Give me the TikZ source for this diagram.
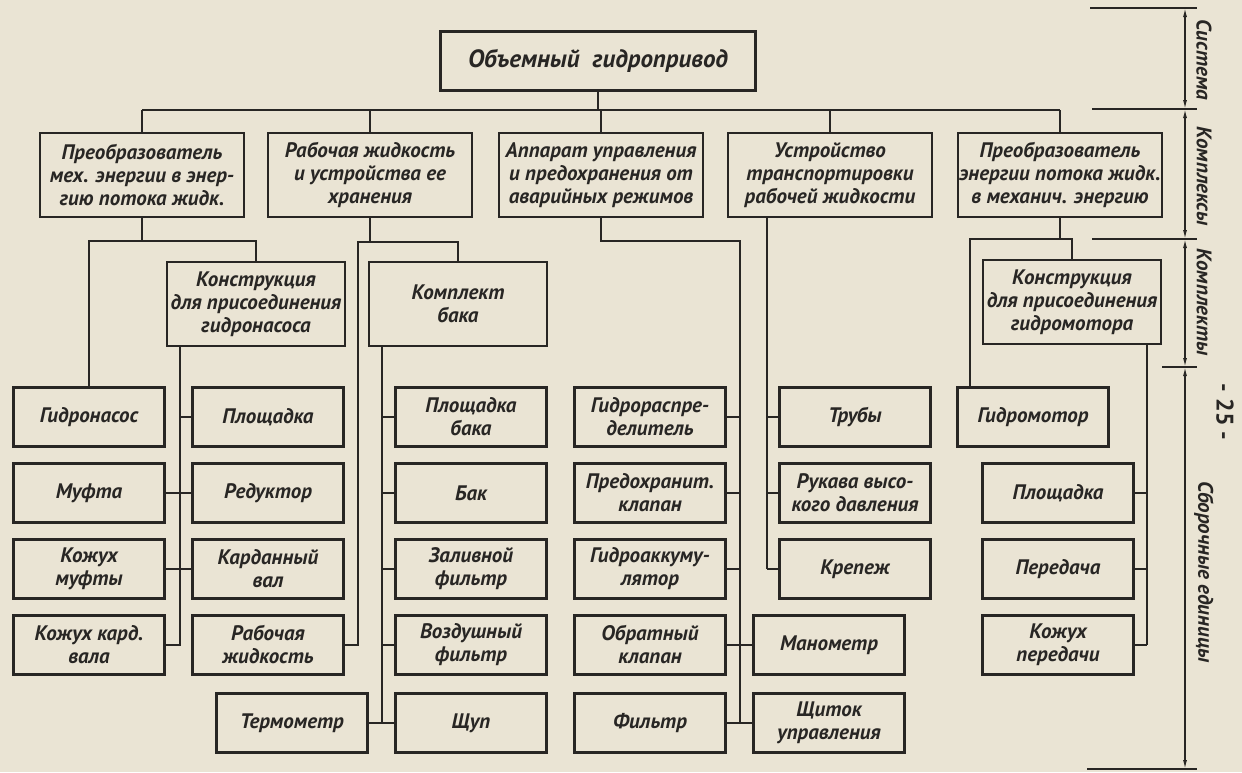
\documentclass[tikz,border=0pt]{standalone}
\usepackage{fontspec}
\setmainfont{PT Sans}
\usetikzlibrary{arrows.meta}

\definecolor{bumaga}{RGB}{234,228,212}
\definecolor{tush}{RGB}{40,38,36}

\tikzset{
    blok/.style={draw=tush, line width=2.4pt, align=center, inner sep=0pt,
        text=tush, font=\bfseries\itshape\fontsize{21}{23}\selectfont},
    krupn/.style={blok, minimum width=204pt, minimum height=84pt},
    sredn/.style={blok, minimum width=178pt, minimum height=84pt},
    malyj/.style={blok, minimum width=151pt, minimum height=59pt},
    svyaz/.style={draw=tush, line width=1.7pt},
    razmer/.style={draw=tush, line width=1.3pt},
    strelki/.style={razmer, {Latex[length=9pt,width=4pt]}-{Latex[length=9pt,width=4pt]}},
    podpis/.style={text=tush, rotate=-90, inner sep=0pt,
        font=\bfseries\itshape\fontsize{21}{22}\selectfont},
}

\begin{document}
\begin{tikzpicture}[x=1pt, y=-1pt]
    % фон страницы
    \fill[bumaga] (0,0) rectangle (1242,772);
    \useasboundingbox (0,0) rectangle (1242,772);

    % система
    \node[blok, minimum width=315pt, minimum height=59pt,
        font=\bfseries\itshape\fontsize{25}{27}\selectfont] (sys) at (598,61) {Объемный\ \ гидропривод};

    % комплексы
    \node[krupn] (k1) at (142,175) {Преобразователь\\мех. энергии в энер-\\гию потока жидк.};
    \node[krupn] (k2) at (370,175) {Рабочая жидкость\\и устройства ее\\хранения};
    \node[krupn] (k3) at (601,175) {Аппарат управления\\и предохранения от\\аварийных режимов};
    \node[krupn] (k4) at (830,175) {Устройство\\транспортировки\\рабочей жидкости};
    \node[krupn] (k5) at (1060,175) {Преобразователь\\энергии потока жидк.\\в механич. энергию};

    % комплекты
    \node[sredn] (kn1) at (256,304) {Конструкция\\для присоединения\\гидронасоса};
    \node[sredn] (kb) at (458,304) {Комплект\\бака};
    \node[sredn] (kn2) at (1072,302) {Конструкция\\для присоединения\\гидромотора};

    % сборочные единицы, первый столбец
    \node[malyj] (a1) at (89,417) {Гидронасос};
    \node[malyj] (a2) at (89,493) {Муфта};
    \node[malyj] (a3) at (89,569) {Кожух\\муфты};
    \node[malyj] (a4) at (89,645) {Кожух кард.\\вала};

    % второй столбец
    \node[malyj] (b1) at (268,417) {Площадка};
    \node[malyj] (b2) at (268,493) {Редуктор};
    \node[malyj] (b3) at (268,569) {Карданный\\вал};
    \node[malyj] (b4) at (268,645) {Рабочая\\жидкость};
    \node[malyj] (term) at (292,723) {Термометр};

    % столбец бака
    \node[malyj] (c1) at (471,417) {Площадка\\бака};
    \node[malyj] (c2) at (471,493) {Бак};
    \node[malyj] (c3) at (471,569) {Заливной\\фильтр};
    \node[malyj] (c4) at (471,645) {Воздушный\\фильтр};
    \node[malyj] (c5) at (471,723) {Щуп};

    % столбец аппаратов
    \node[malyj] (d1) at (650,417) {Гидрораспре-\\делитель};
    \node[malyj] (d2) at (650,493) {Предохранит.\\клапан};
    \node[malyj] (d3) at (650,569) {Гидроаккуму-\\лятор};
    \node[malyj] (d4) at (650,645) {Обратный\\клапан};
    \node[malyj] (d5) at (650,723) {Фильтр};

    % столбец транспортировки
    \node[malyj] (e1) at (855,417) {Трубы};
    \node[malyj] (e2) at (855,493) {Рукава высо-\\кого давления};
    \node[malyj] (e3) at (855,569) {Крепеж};
    \node[malyj] (man) at (829,645) {Манометр};
    \node[malyj] (shchit) at (829,723) {Щиток\\управления};

    % столбец гидромотора
    \node[malyj] (gm) at (1033,417) {Гидромотор};
    \node[malyj] (f1) at (1058,493) {Площадка};
    \node[malyj] (f2) at (1058,569) {Передача};
    \node[malyj] (f3) at (1058,645) {Кожух\\передачи};

    % шина от системы к комплексам
    \coordinate (shina) at (0,110);
    \draw[svyaz] (sys.south) -- (sys.south |- shina);
    \draw[svyaz] (k1.north |- shina) -- (k5.north |- shina);
    \foreach \k in {k1,k2,k3,k4,k5}
        \draw[svyaz] (\k.north |- shina) -- (\k.north);

    % ветвь первого комплекса
    \coordinate (sh1) at (0,241);
    \coordinate (v1) at (180,0);
    \draw[svyaz] (k1.south) -- (k1.south |- sh1);
    \draw[svyaz] (a1.north) -- (a1.north |- sh1) -- (kn1.north |- sh1) -- (kn1.north);
    \draw[svyaz] (kn1.south -| v1) -- (a4.east -| v1) -- (a4.east);
    \draw[svyaz] (b1.west -| v1) -- (b1.west);
    \draw[svyaz] (a2.east) -- (b2.west);
    \draw[svyaz] (a3.east) -- (b3.west);

    % ветвь рабочей жидкости
    \coordinate (sh2) at (0,242);
    \coordinate (v2) at (358,0);
    \draw[svyaz] (k2.south) -- (k2.south |- sh2);
    \draw[svyaz] (b4.east) -- (b4.east -| v2) -- (v2 |- sh2) -- (kb.north |- sh2) -- (kb.north);

    % ветвь комплекта бака
    \coordinate (v3) at (382,0);
    \draw[svyaz] (kb.south -| v3) -- (term.east -| v3);
    \draw[svyaz] (term.east) -- (c5.west);
    \foreach \c in {c1,c2,c3,c4}
        \draw[svyaz] (\c.west -| v3) -- (\c.west);

    % ветвь аппаратов управления
    \coordinate (v4) at (740,0);
    \draw[svyaz] (k3.south) -- (k3.south |- sh1) -- (v4 |- sh1) -- (d5.east -| v4);
    \foreach \d in {d1,d2,d3}
        \draw[svyaz] (\d.east) -- (\d.east -| v4);
    \draw[svyaz] (d4.east) -- (man.west);
    \draw[svyaz] (d5.east) -- (shchit.west);

    % ветвь транспортировки
    \coordinate (v5) at (767,0);
    \draw[svyaz] (k4.south -| v5) -- (e3.west -| v5);
    \foreach \e in {e1,e2,e3}
        \draw[svyaz] (\e.west -| v5) -- (\e.west);

    % ветвь гидромотора
    \coordinate (sh3) at (0,239);
    \coordinate (v6) at (970,0);
    \coordinate (v7) at (1147,0);
    \draw[svyaz] (k5.south) -- (k5.south |- sh3);
    \draw[svyaz] (gm.north -| v6) -- (v6 |- sh3) -- (kn2.north |- sh3) -- (kn2.north);
    \draw[svyaz] (kn2.south -| v7) -- (f3.east -| v7);
    \foreach \f in {f1,f2,f3}
        \draw[svyaz] (\f.east) -- (\f.east -| v7);

    % уровни справа
    \foreach \y/\xa in {8/1090, 109/1092, 239/1092, 367/1162, 769/1087}
        \draw[razmer] (\xa,\y) -- (1197,\y);
    \draw[strelki] (1185,8) -- (1185,109);
    \draw[strelki] (1185,109) -- (1185,239);
    \draw[strelki] (1185,239) -- (1185,367);
    \draw[strelki] (1185,367) -- (1185,769);
    \node[podpis] (lsys) at (1204,60) {Система};
    \node[podpis] (lkx) at (1204,176) {Комплексы};
    \node[podpis] (lkt) at (1204,302) {Комплекты};
    \node[podpis] (lse) at (1204,572) {Сборочные единицы};

    % номер страницы
    \node[text=tush, rotate=-90, font=\bfseries\fontsize{24}{24}\selectfont] (str) at (1225,412) {- 25 -};
\end{tikzpicture}
\end{document}
